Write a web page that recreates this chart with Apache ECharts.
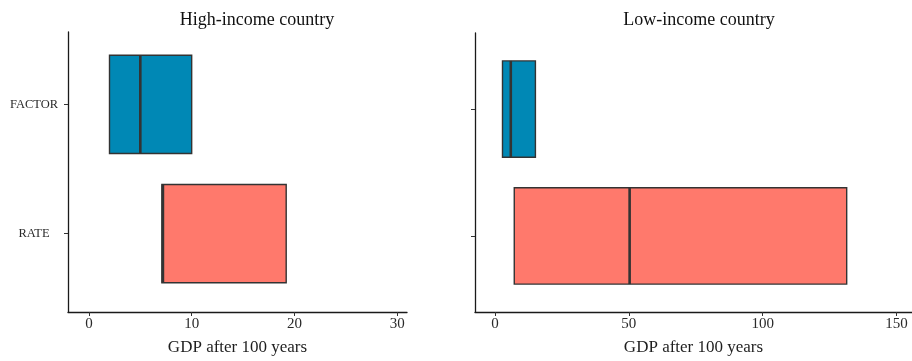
<!DOCTYPE html>
<html>
<head>
<meta charset="utf-8">
<script src="https://cdn.jsdelivr.net/npm/echarts@6/dist/echarts.min.js"></script>
<style>
  html, body { margin: 0; padding: 0; background: #fff; }
  #chart { width: 912px; height: 361px; }
</style>
</head>
<body>
<div id="chart"></div>
<script>
// Categories, top to bottom on each panel
const categories = ['FACTOR', 'RATE'];
// Position of each category on the vertical value scale (FACTOR above RATE)
const categoryPos = [2, 1];

// High-income country: lower quartile, median, upper quartile
const highQ1 = [2.0, 7.1];
const highMedian = [5.0, 7.2];
const highQ3 = [10.0, 19.2];

// Low-income country: lower quartile, median, upper quartile
const lowQ1 = [2.8, 7.2];
const lowMedian = [5.9, 50.3];
const lowQ3 = [15.1, 131.4];

// Tick labels
const highTicks = [0, 10, 20, 30];
const lowTicks = [0, 50, 100, 150];

const panelTitles = ['High-income country', 'Low-income country'];
const xTitle = 'GDP after 100 years';

const colors = { FACTOR: '#0088b5', RATE: '#ff796c' };
const FONT = '"Liberation Serif", "DejaVu Serif", serif';

function boxData(q1, med, q3) {
  return categories.map((c, i) => ({
    value: [q1[i], med[i], q3[i], categoryPos[i]],
    itemStyle: { color: colors[c] }
  }));
}

const HALF = 0.38;
function renderBox(params, api) {
  const q1 = api.value(0), med = api.value(1), q3 = api.value(2), pos = api.value(3);
  const tl = api.coord([q1, pos + HALF]);
  const br = api.coord([q3, pos - HALF]);
  const mt = api.coord([med, pos + HALF]);
  const mb = api.coord([med, pos - HALF]);
  const fill = api.visual('color');
  return {
    type: 'group',
    children: [
      {
        type: 'rect',
        shape: { x: tl[0], y: tl[1], width: br[0] - tl[0], height: br[1] - tl[1] },
        style: { fill: fill, stroke: '#333333', lineWidth: 1.4 }
      },
      {
        type: 'line',
        shape: { x1: mt[0], y1: mt[1], x2: mb[0], y2: mb[1] },
        style: { stroke: '#333333', lineWidth: 2.6 }
      }
    ]
  };
}

const axisLineStyle = { color: '#1a1a1a', width: 1.3 };

function xAxisFor(gridIndex, min, max, ticks) {
  return {
    type: 'value', gridIndex: gridIndex, min: min, max: max,
    name: xTitle, nameLocation: 'middle', nameGap: 27,
    nameTextStyle: { fontFamily: FONT, fontSize: 17, color: '#1e1e1e' },
    axisLine: { show: true, onZero: false, lineStyle: axisLineStyle },
    axisTick: { show: true, customValues: ticks, length: 4, lineStyle: { color: '#333' } },
    axisLabel: { customValues: ticks, fontFamily: FONT, fontSize: 15, color: '#2a2a2a', margin: 5 },
    splitLine: { show: false }
  };
}

function yAxisFor(gridIndex, min, max, showLabels) {
  return {
    type: 'value', gridIndex: gridIndex, min: min, max: max,
    axisLine: { show: true, onZero: false, lineStyle: axisLineStyle },
    axisTick: { show: true, customValues: categoryPos, length: 4, lineStyle: { color: '#333' } },
    axisLabel: {
      show: showLabels,
      customValues: categoryPos,
      formatter: v => categories[categoryPos.indexOf(v)] || '',
      fontFamily: FONT, fontSize: 12.5, color: '#2a2a2a',
      align: 'center', margin: 34
    },
    splitLine: { show: false }
  };
}

const chart = echarts.init(document.getElementById('chart'), null, { renderer: 'canvas' });
chart.setOption({
  backgroundColor: '#ffffff',
  animation: false,
  title: [
    { text: panelTitles[0], left: 252, top: 6, textAlign: 'center',
      textStyle: { fontFamily: FONT, fontSize: 18, fontWeight: 'normal', color: '#111' } },
    { text: panelTitles[1], left: 694, top: 6, textAlign: 'center',
      textStyle: { fontFamily: FONT, fontSize: 18, fontWeight: 'normal', color: '#111' } }
  ],
  grid: [
    { left: 68, top: 32, width: 339, height: 280 },
    { left: 475, top: 33, width: 437, height: 279 }
  ],
  xAxis: [
    xAxisFor(0, -2.04, 30.96, highTicks),
    xAxisFor(1, -7.47, 155.8, lowTicks)
  ],
  yAxis: [
    yAxisFor(0, 0.394, 2.56, true),
    yAxisFor(1, 0.4, 2.6, false)
  ],
  series: [
    { type: 'custom', xAxisIndex: 0, yAxisIndex: 0, renderItem: renderBox,
      data: boxData(highQ1, highMedian, highQ3), clip: false },
    { type: 'custom', xAxisIndex: 1, yAxisIndex: 1, renderItem: renderBox,
      data: boxData(lowQ1, lowMedian, lowQ3), clip: false }
  ]
});
</script>
</body>
</html>
